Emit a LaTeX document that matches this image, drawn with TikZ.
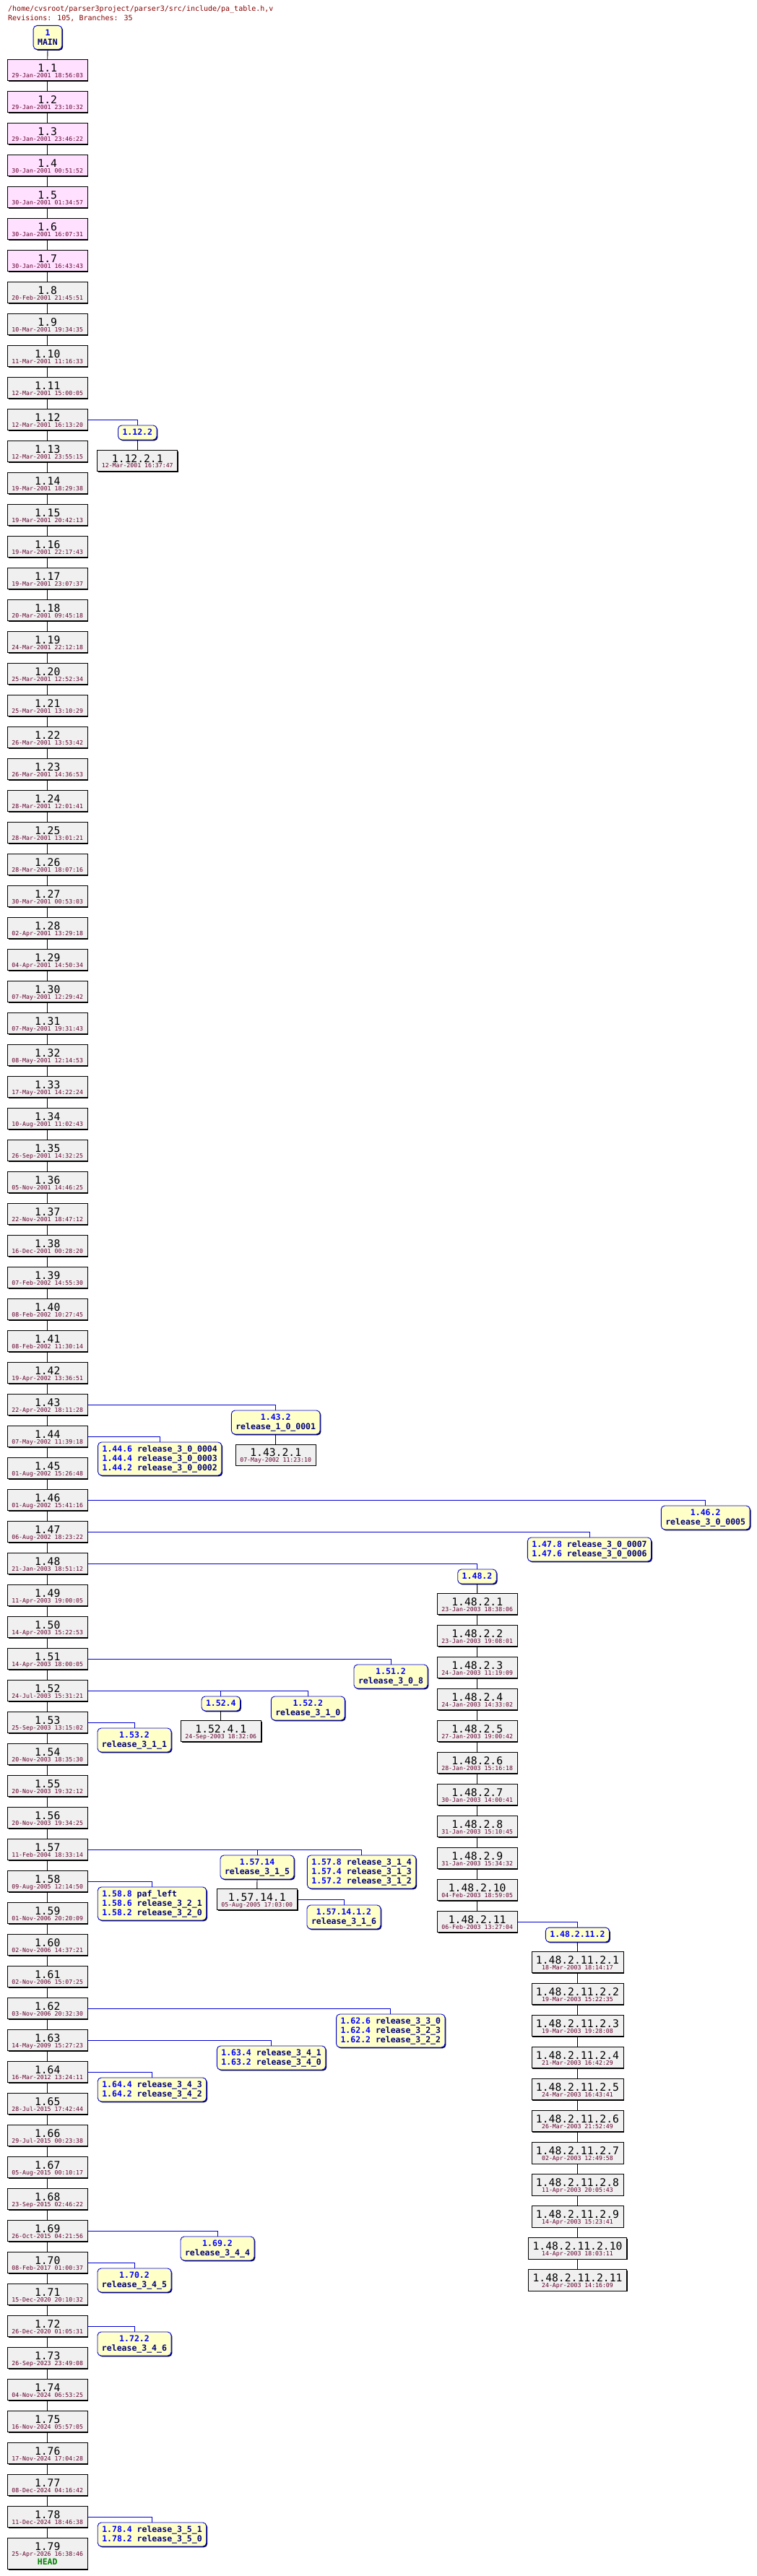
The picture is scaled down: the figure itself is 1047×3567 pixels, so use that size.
\documentclass[tikz,border=0pt]{standalone}
\usepackage{fontspec}
\newfontfamily\dm{DejaVu Sans Mono}
\usetikzlibrary{shadows}
\definecolor{titlered}{RGB}{136,0,0}
\definecolor{datecol}{RGB}{100,0,45}
\definecolor{revgray}{RGB}{240,240,240}
\definecolor{pinkfill}{RGB}{255,224,255}
\definecolor{tagfill}{RGB}{255,255,200}
\definecolor{tagblue}{RGB}{0,0,215}
\definecolor{tagnum}{RGB}{0,0,255}
\definecolor{tagnavy}{RGB}{0,0,120}
\definecolor{tagshadow}{RGB}{0,0,70}
\definecolor{brblue}{RGB}{0,0,215}
\definecolor{headgreen}{RGB}{0,128,0}
\AtBeginDocument{\lineskiplimit=-50pt\relax}
\newcommand\revf{\fontsize{14.7}{7.7}\selectfont}
\newcommand\rv[2]{{\revf\color{black}\rule{0pt}{13.7pt}#1}\\#2\rule[-1.6pt]{0pt}{1.6pt}}
\newcommand\tgA{\rule{0pt}{10.7pt}}
\newcommand\tgZ{\rule[-3.3pt]{0pt}{3.3pt}}
\newcommand\bn[1]{\textcolor{tagnum}{#1}}
\tikzset{
  revbox/.style={draw=black, line width=0.9pt, fill=revgray, align=center,
    inner xsep=6pt, inner ysep=3pt, anchor=north, text=datecol,
    font=\dm\fontsize{8.2}{7.7}\selectfont,
    drop shadow={shadow xshift=1.4pt, shadow yshift=-1.4pt, opacity=1, fill=black}},
  tagbox/.style={draw=tagblue, line width=0.9pt, fill=tagfill, rounded corners=5pt,
    inner xsep=6pt, inner ysep=3pt, anchor=north, text=tagnavy,
    font=\dm\bfseries\fontsize{11.5}{13}\selectfont,
    drop shadow={shadow xshift=1.4pt, shadow yshift=-1.4pt, opacity=1, fill=tagshadow}},
  tagc/.style={tagbox, align=center},
  tagl/.style={tagbox, align=left},
  trunkline/.style={draw=black, line width=0.9pt},
  brline/.style={draw=brblue, line width=0.9pt},
  titlef/.style={anchor=base west, inner sep=0pt, text=titlered, font=\dm\fontsize{10}{12}\selectfont}
}
\begin{document}
\begin{tikzpicture}[x=1pt, y=-1pt]
\fill[white] (0,0) rectangle (1047,3567);
\useasboundingbox (0,0) rectangle (1047,3567);

\node[titlef] (title1) at (11,15.8) {/home/cvsroot/parser3project/parser3/src/include/pa\_table.h,v};
\node[titlef] (title2) at (11,28.5) {Revisions: 105, Branches: 35};

\node[tagc] (main) at (66,35) {\tgA\bn{1}\\MAIN\tgZ};

% trunk
\foreach \n/\d in {1/29-Jan-2001 18:56:03, 2/29-Jan-2001 23:10:32, 3/29-Jan-2001 23:46:22,
  4/30-Jan-2001 00:51:52, 5/30-Jan-2001 01:34:57, 6/30-Jan-2001 16:07:31, 7/30-Jan-2001 16:43:43}{
  \pgfmathsetmacro\yy{82.3+44*(\n-1)}
  \node[revbox, fill=pinkfill] (r\n) at (65.7,\yy) {\rv{1.\n}{\d}};
}
\foreach \n/\d in {8/20-Feb-2001 21:45:51, 9/10-Mar-2001 19:34:35, 10/11-Mar-2001 11:16:33,
  11/12-Mar-2001 15:00:05, 12/12-Mar-2001 16:13:20, 13/12-Mar-2001 23:55:15,
  14/19-Mar-2001 18:29:38, 15/19-Mar-2001 20:42:13, 16/19-Mar-2001 22:17:43,
  17/19-Mar-2001 23:07:37, 18/20-Mar-2001 09:45:18, 19/24-Mar-2001 22:12:18,
  20/25-Mar-2001 12:52:34, 21/25-Mar-2001 13:10:29, 22/26-Mar-2001 13:53:42,
  23/26-Mar-2001 14:36:53, 24/28-Mar-2001 12:01:41, 25/28-Mar-2001 13:01:21,
  26/28-Mar-2001 18:07:16, 27/30-Mar-2001 00:53:03, 28/02-Apr-2001 13:29:18,
  29/04-Apr-2001 14:50:34, 30/07-May-2001 12:29:42, 31/07-May-2001 19:31:43,
  32/08-May-2001 12:14:53, 33/17-May-2001 14:22:24, 34/10-Aug-2001 11:02:43,
  35/26-Sep-2001 14:32:25, 36/05-Nov-2001 14:46:25, 37/22-Nov-2001 18:47:12,
  38/16-Dec-2001 00:28:20, 39/07-Feb-2002 14:55:30, 40/08-Feb-2002 10:27:45,
  41/08-Feb-2002 11:30:14, 42/19-Apr-2002 13:36:51, 43/22-Apr-2002 18:11:28,
  44/07-May-2002 11:39:18, 45/01-Aug-2002 15:26:48, 46/01-Aug-2002 15:41:16,
  47/06-Aug-2002 18:23:22, 48/21-Jan-2003 18:51:12, 49/11-Apr-2003 19:00:05,
  50/14-Apr-2003 15:22:53, 51/14-Apr-2003 18:00:05, 52/24-Jul-2003 15:31:21,
  53/25-Sep-2003 13:15:02, 54/20-Nov-2003 18:35:30, 55/20-Nov-2003 19:32:12,
  56/20-Nov-2003 19:34:25, 57/11-Feb-2004 18:33:14, 58/09-Aug-2005 12:14:50,
  59/01-Nov-2006 20:20:09, 60/02-Nov-2006 14:37:21, 61/02-Nov-2006 15:07:25,
  62/03-Nov-2006 20:32:30, 63/14-May-2009 15:27:23, 64/16-Mar-2012 13:24:11,
  65/28-Jul-2015 17:42:44, 66/29-Jul-2015 00:23:38, 67/05-Aug-2015 00:10:17,
  68/23-Sep-2015 02:46:22, 69/26-Oct-2015 04:21:56, 70/08-Feb-2017 01:00:37,
  71/15-Dec-2020 20:10:32, 72/26-Dec-2020 01:05:31, 73/26-Sep-2023 23:49:08,
  74/04-Nov-2024 06:53:25, 75/16-Nov-2024 05:57:05, 76/17-Nov-2024 17:04:28,
  77/08-Dec-2024 04:16:42, 78/11-Dec-2024 18:46:38}{
  \pgfmathsetmacro\yy{82.3+44*(\n-1)}
  \node[revbox] (r\n) at (65.7,\yy) {\rv{1.\n}{\d}};
}
\node[revbox] (r79) at (65.7,3514.3) {{\revf\color{black}\rule{0pt}{13.7pt}1.79}\\25-Apr-2026 16:38:46\\[4.6pt]{\fontsize{11.5}{7.7}\selectfont\bfseries\color{headgreen}HEAD\rule[-3.3pt]{0pt}{3.3pt}}};

\draw[trunkline] (main.south) -- (r1.north);
\foreach \n [evaluate=\n as \m using int(\n+1)] in {1,...,78}
  \draw[trunkline] (r\n.south) -- (r\m.north);

% branch 1.12.2
\node[tagc] (t12) at (190.3,588.5) {\tgA\bn{1.12.2}\tgZ};
\node[revbox] (s12) at (190.3,623) {\rv{1.12.2.1}{12-Mar-2001 16:37:47}};
\draw[brline] (r12.east) -| (t12.north);
\draw[trunkline] (t12.south) -- (s12.north);

% 1.43.2
\node[tagc] (t43) at (381.7,1952.5) {\tgA\bn{1.43.2}\\release\_1\_0\_0001\tgZ};
\node[revbox] (s43) at (381.7,1999.5) {\rv{1.43.2.1}{07-May-2002 11:23:10}};
\draw[brline] (r43.east) -| (t43.north);
\draw[trunkline] (t43.south) -- (s43.north);

% 1.44
\node[tagl] (t44) at (221.2,1996.5) {\tgA\bn{1.44.6} release\_3\_0\_0004\\\bn{1.44.4} release\_3\_0\_0003\\\bn{1.44.2} release\_3\_0\_0002\tgZ};
\draw[brline] (r44.east) -| (t44.north);

% 1.46
\node[tagc] (t46) at (976.7,2084.5) {\tgA\bn{1.46.2}\\release\_3\_0\_0005\tgZ};
\draw[brline] (r46.east) -| (t46.north);

% 1.47
\node[tagl] (t47) at (816,2128.5) {\tgA\bn{1.47.8} release\_3\_0\_0007\\\bn{1.47.6} release\_3\_0\_0006\tgZ};
\draw[brline] (r47.east) -| (t47.north);

% 1.48.2
\node[tagc] (t48) at (660.5,2172.5) {\tgA\bn{1.48.2}\tgZ};
\draw[brline] (r48.east) -| (t48.north);
\foreach \k/\d in {1/23-Jan-2003 18:38:06, 2/23-Jan-2003 19:08:01, 3/24-Jan-2003 11:19:09,
  4/24-Jan-2003 14:33:02, 5/27-Jan-2003 19:00:42, 6/28-Jan-2003 15:16:18,
  7/30-Jan-2003 14:00:41, 8/31-Jan-2003 15:10:45, 9/31-Jan-2003 15:34:32,
  10/04-Feb-2003 18:59:05, 11/06-Feb-2003 13:27:04}{
  \pgfmathsetmacro\yy{2206.4+44*(\k-1)}
  \node[revbox] (b\k) at (660.7,\yy) {\rv{1.48.2.\k}{\d}};
}
\draw[trunkline] (t48.south) -- (b1.north);
\foreach \k [evaluate=\k as \m using int(\k+1)] in {1,...,10}
  \draw[trunkline] (b\k.south) -- (b\m.north);

% 1.48.2.11.2
\node[tagc] (t4811) at (799.4,2668.6) {\tgA\bn{1.48.2.11.2}\tgZ};
\draw[brline] (b11.east) -| (t4811.north);
\foreach \k/\d in {1/18-Mar-2003 18:14:17, 2/19-Mar-2003 15:22:35, 3/19-Mar-2003 19:28:08,
  4/21-Mar-2003 16:42:29, 5/24-Mar-2003 16:43:41, 6/26-Mar-2003 21:52:49,
  7/02-Apr-2003 12:49:58, 8/11-Apr-2003 20:05:43, 9/14-Apr-2003 15:23:41,
  10/14-Apr-2003 18:03:11, 11/24-Apr-2003 14:16:09}{
  \pgfmathsetmacro\yy{2702.4+44*(\k-1)}
  \node[revbox] (c\k) at (799.5,\yy) {\rv{1.48.2.11.2.\k}{\d}};
}
\draw[trunkline] (t4811.south) -- (c1.north);
\foreach \k [evaluate=\k as \m using int(\k+1)] in {1,...,10}
  \draw[trunkline] (c\k.south) -- (c\m.north);

% 1.51
\node[tagc] (t51) at (541,2304.5) {\tgA\bn{1.51.2}\\release\_3\_0\_8\tgZ};
\draw[brline] (r51.east) -| (t51.north);

% 1.52
\node[tagc] (t52a) at (305.8,2348.5) {\tgA\bn{1.52.4}\tgZ};
\node[tagc] (t52b) at (426.3,2348.5) {\tgA\bn{1.52.2}\\release\_3\_1\_0\tgZ};
\node[revbox] (s52) at (305.8,2382.3) {\rv{1.52.4.1}{24-Sep-2003 18:32:06}};
\draw[brline] (r52.east) -| (t52b.north);
\draw[brline] (t52a.north) -- (t52a.north |- r52.east);
\draw[trunkline] (t52a.south) -- (s52.north);

% 1.53
\node[tagc] (t53) at (186,2392.5) {\tgA\bn{1.53.2}\\release\_3\_1\_1\tgZ};
\draw[brline] (r53.east) -| (t53.north);

% 1.57
\node[tagc] (t57a) at (356,2568.5) {\tgA\bn{1.57.14}\\release\_3\_1\_5\tgZ};
\node[tagl] (t57b) at (500.6,2568.5) {\tgA\bn{1.57.8} release\_3\_1\_4\\\bn{1.57.4} release\_3\_1\_3\\\bn{1.57.2} release\_3\_1\_2\tgZ};
\node[revbox] (s57) at (355.8,2615.3) {\rv{1.57.14.1}{05-Aug-2005 17:03:00}};
\node[tagc] (t5714) at (476,2637.5) {\tgA\bn{1.57.14.1.2}\\release\_3\_1\_6\tgZ};
\draw[brline] (r57.east) -| (t57b.north);
\draw[brline] (t57a.north) -- (t57a.north |- r57.east);
\draw[trunkline] (t57a.south) -- (s57.north);
\draw[brline] (s57.east) -| (t5714.north);

% 1.58
\node[tagl] (t58) at (210.5,2612.5) {\tgA\bn{1.58.8} paf\_left\\\bn{1.58.6} release\_3\_2\_1\\\bn{1.58.2} release\_3\_2\_0\tgZ};
\draw[brline] (r58.east) -| (t58.north);

% 1.62
\node[tagl] (t62) at (540.8,2788.5) {\tgA\bn{1.62.6} release\_3\_3\_0\\\bn{1.62.4} release\_3\_2\_3\\\bn{1.62.2} release\_3\_2\_2\tgZ};
\draw[brline] (r62.east) -| (t62.north);

% 1.63
\node[tagl] (t63) at (375.6,2832.5) {\tgA\bn{1.63.4} release\_3\_4\_1\\\bn{1.63.2} release\_3\_4\_0\tgZ};
\draw[brline] (r63.east) -| (t63.north);

% 1.64
\node[tagl] (t64) at (210.5,2876.5) {\tgA\bn{1.64.4} release\_3\_4\_3\\\bn{1.64.2} release\_3\_4\_2\tgZ};
\draw[brline] (r64.east) -| (t64.north);

% 1.69
\node[tagc] (t69) at (301,3096.5) {\tgA\bn{1.69.2}\\release\_3\_4\_4\tgZ};
\draw[brline] (r69.east) -| (t69.north);

% 1.70
\node[tagc] (t70) at (186,3140.5) {\tgA\bn{1.70.2}\\release\_3\_4\_5\tgZ};
\draw[brline] (r70.east) -| (t70.north);

% 1.72
\node[tagc] (t72) at (186,3228.5) {\tgA\bn{1.72.2}\\release\_3\_4\_6\tgZ};
\draw[brline] (r72.east) -| (t72.north);

% 1.78
\node[tagl] (t78) at (210.5,3492.5) {\tgA\bn{1.78.4} release\_3\_5\_1\\\bn{1.78.2} release\_3\_5\_0\tgZ};
\draw[brline] (r78.east) -| (t78.north);
\end{tikzpicture}
\end{document}
